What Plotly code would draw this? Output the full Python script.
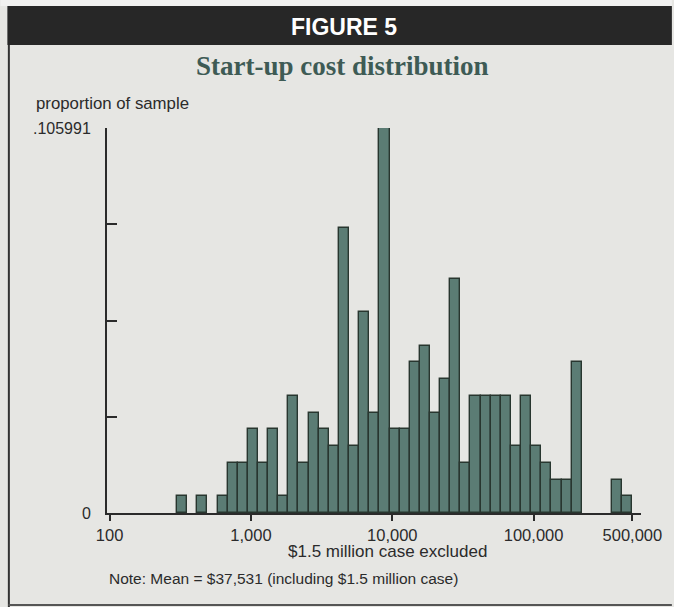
import numpy as np
import plotly.graph_objects as go

# Histogram of start-up costs (log-scale bins), proportion of sample per bin
bin_low = 300
bin_high = 500000
n_bins = 45
sample_size = 217
bin_counts = [1, 0, 1, 0, 1, 3, 3, 5, 3, 5,
              1, 7, 3, 6, 5, 4, 17, 4, 12, 6,
              23, 5, 5, 9, 10, 6, 8, 14, 3, 7,
              7, 7, 7, 4, 7, 4, 3, 2, 2, 9,
              0, 0, 0, 2, 1]

x_tick_values = [100, 1000, 10000, 100000, 500000]
x_tick_labels = ["100", "1,000", "10,000", "100,000", "500,000"]
y_tick_labels = ["0", "", "", "", ".105991"]

edges = np.linspace(np.log10(bin_low), np.log10(bin_high), n_bins + 1)
centers = (edges[:-1] + edges[1:]) / 2
width = edges[1] - edges[0]
props = np.array(bin_counts) / sample_size
y_top = props.max()
filled = props > 0   # empty bins draw nothing

W, H = 674, 607
L, R, T, B = 107, 643, 128, 513   # plot area in pixels


def px(x):
    return (x - L) / (R - L)


def py(y):
    return (B - y) / (B - T)


ink = "#2b2b2b"
bg = "#e6e6e3"

fig = go.Figure()
fig.add_trace(go.Bar(
    x=centers[filled], y=props[filled], width=width,
    marker=dict(color="#5b7c74", line=dict(color="#28362f", width=1.4)),
    hoverinfo="skip",
))

shapes = [
    # light strip above header
    dict(type="rect", xref="paper", yref="paper", x0=px(0), x1=px(W), y0=py(0), y1=py(6),
         fillcolor="#f1f1f0", line=dict(width=0), layer="below"),
    # dark header band
    dict(type="rect", xref="paper", yref="paper", x0=px(7), x1=px(W), y0=py(6), y1=py(45),
         fillcolor="#272727", line=dict(width=0)),
    # frame lines
    dict(type="line", xref="paper", yref="paper", x0=px(8.5), x1=px(8.5), y0=py(45), y1=py(H),
         line=dict(color="#333333", width=2)),
    dict(type="line", xref="paper", yref="paper", x0=px(8), x1=px(W), y0=py(605), y1=py(605),
         line=dict(color="#555555", width=2)),
]

ann = [
    dict(text="<b>FIGURE 5</b>", x=px(345), y=py(27), font=dict(family="Liberation Sans", size=23, color="white"),
         xanchor="center", yanchor="middle"),
    dict(text="<b>Start-up cost distribution</b>", x=px(343), y=py(66),
         font=dict(family="Liberation Serif", size=27, color="#3e5b55"), xanchor="center", yanchor="middle"),
    dict(text="proportion of sample", x=px(34), y=py(103),
         font=dict(family="Liberation Sans", size=16.8, color=ink), xanchor="left", yanchor="middle"),
    dict(text="$1.5 million case excluded", x=px(389), y=py(551),
         font=dict(family="Liberation Sans", size=17, color=ink), xanchor="center", yanchor="middle"),
    dict(text="Note: Mean = $37,531 (including $1.5 million case)", x=px(107), y=py(578),
         font=dict(family="Liberation Sans", size=15.5, color=ink), xanchor="left", yanchor="middle"),
]
for a in ann:
    a.update(xref="paper", yref="paper", showarrow=False)

fig.update_layout(
    width=W, height=H,
    margin=dict(l=L, r=W - R, t=T, b=H - B, pad=0),
    paper_bgcolor=bg, plot_bgcolor=bg,
    showlegend=False, bargap=0,
    shapes=shapes, annotations=ann,
    xaxis=dict(
        range=[1.9815, 5.760],
        tickvals=np.log10(x_tick_values), ticktext=x_tick_labels,
        showgrid=False, zeroline=False,
        showline=True, linecolor=ink, linewidth=2,
        ticks="outside", ticklen=6, tickwidth=2, tickcolor=ink,
        tickfont=dict(family="Liberation Sans", size=16.5, color=ink),
        fixedrange=True,
    ),
    yaxis=dict(
        range=[0, y_top],
        tickvals=[y_top * k / 4 for k in range(5)], ticktext=y_tick_labels,
        showgrid=False, zeroline=False,
        showline=True, linecolor=ink, linewidth=2,
        ticks="inside", ticklen=10, tickwidth=2, tickcolor=ink,
        ticklabelstandoff=11,
        tickfont=dict(family="Liberation Sans", size=16, color=ink),
        fixedrange=True,
    ),
)

fig.write_html("out.html", config={"displayModeBar": False})
